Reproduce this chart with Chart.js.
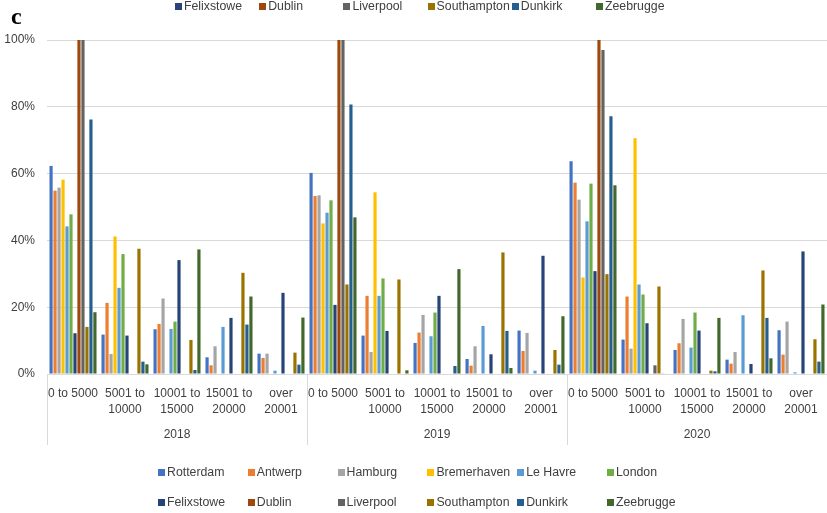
<!DOCTYPE html>
<html>
<head>
<meta charset="utf-8">
<script src="https://cdn.jsdelivr.net/npm/chart.js@4.4.1/dist/chart.umd.min.js"></script>
<style>
  html, body { margin: 0; padding: 0; background: #fff; }
  #wrap { position: relative; width: 827px; height: 513px; overflow: hidden; font-family: "Liberation Sans", Arial, sans-serif; color: #404040; }
  #chart { position: absolute; left: 0; top: 0; }
  .panel-tag { position: absolute; left: 11px; top: 3px; font: bold 24px "Liberation Serif", serif; color: #000; }
  .lg-item { position: absolute; font-size: 12.3px; line-height: 14px; white-space: nowrap; }
  .lg-item i { display: inline-block; width: 7px; height: 7px; margin-right: 2px; vertical-align: 0px; }
</style>
</head>
<body>
<div id="wrap">
  <canvas id="chart" width="827" height="513"></canvas>
  <div class="panel-tag">c</div>
  <div id="legend"></div>
</div>
<script>
// groups on the x axis
const years = ['2018', '2019', '2020'];
const sizeBins = [['0 to 5000'], ['5001 to', '10000'], ['10001 to', '15000'], ['15001 to', '20000'], ['over', '20001']];

// share of calls (%) per size bin, 2018 | 2019 | 2020
const ports = ['Rotterdam', 'Antwerp', 'Hamburg', 'Bremerhaven', 'Le Havre', 'London',
               'Felixstowe', 'Dublin', 'Liverpool', 'Southampton', 'Dunkirk', 'Zeebrugge'];

const rotterdam   = [62.3, 11.8, 13.4, 5.0, 6.1,   60.2, 11.5, 9.3, 4.5, 13.0,   63.7, 10.3, 7.2, 4.3, 13.1];
const antwerp     = [54.9, 21.3, 15.0, 2.6, 4.8,   53.3, 23.4, 12.4, 2.5, 6.9,   57.3, 23.2, 9.2, 3.1, 5.8];
const hamburg     = [55.8, 6.0, 22.6, 8.3, 6.1,    53.5, 6.6, 17.7, 8.3, 12.3,   52.2, 7.6, 16.5, 6.6, 15.7];
const bremerhaven = [58.2, 41.2, 0, 0, 0,          45.1, 54.4, 0, 0, 0,          28.9, 70.6, 0, 0, 0];
const leHavre     = [44.2, 25.8, 13.5, 14.1, 1.0,  48.3, 23.4, 11.3, 14.4, 1.0,  45.7, 26.8, 7.9, 17.6, 0.5];
const london      = [47.8, 35.9, 15.7, 0, 0,       52.0, 28.6, 18.4, 0, 0,       57.0, 23.8, 18.4, 0, 0];
const felixstowe  = [12.2, 11.5, 34.1, 16.8, 24.3, 20.7, 12.9, 23.4, 5.9, 35.4,  30.8, 15.2, 13.0, 3.0, 36.7];
const dublin      = [100, 0, 0, 0, 0,              100, 0, 0, 0, 0,              100, 0, 0, 0, 0];
const liverpool   = [100, 0, 0, 0, 0,              100, 0, 0, 0, 0,              97.0, 2.6, 0, 0, 0];
const southampton = [14.1, 37.5, 10.2, 30.3, 6.4,  26.8, 28.3, 0, 36.4, 7.2,     29.9, 26.2, 1.0, 31.0, 10.4];
const dunkirk     = [76.2, 3.7, 1.2, 14.8, 2.8,    80.7, 0, 2.4, 12.9, 2.8,      77.2, 0.2, 0.8, 16.8, 3.7];
const zeebrugge   = [18.5, 2.9, 37.3, 23.2, 16.9,  46.9, 1.1, 31.4, 1.8, 17.3,   56.5, 0, 16.8, 4.7, 20.8];

const seriesValues = [rotterdam, antwerp, hamburg, bremerhaven, leHavre, london,
                      felixstowe, dublin, liverpool, southampton, dunkirk, zeebrugge];
const yTicks = [0, 20, 40, 60, 80, 100];

const colors = ['#4472C4', '#ED7D31', '#A5A5A5', '#FFC000', '#5B9BD5', '#70AD47',
                '#264478', '#9E480E', '#636363', '#997300', '#255E91', '#43682B'];

const labels = [];
years.forEach(() => sizeBins.forEach(b => labels.push(b)));

// year row + separators under the size-bin labels
const yearAxisPlugin = {
    id: 'yearAxis',
    afterDraw: function(chart) {
        const ctx = chart.ctx;
        const x = chart.scales.x;
        const area = chart.chartArea;
        const n = sizeBins.length;
        ctx.save();
        ctx.strokeStyle = '#d9d9d9';
        ctx.lineWidth = 1;
        ctx.fillStyle = '#404040';
        ctx.font = '12px "Liberation Sans", Arial, sans-serif';
        ctx.textAlign = 'center';
        ctx.textBaseline = 'middle';
        years.forEach((yr, i) => {
            const first = i * n;
            const left = i === 0 ? area.left : (x.getPixelForValue(first - 1) + x.getPixelForValue(first)) / 2;
            const px = Math.round(left) + 0.5;
            ctx.beginPath();
            ctx.moveTo(px, area.bottom);
            ctx.lineTo(px, area.bottom + 71);
            ctx.stroke();
            ctx.fillText(yr, x.getPixelForValue(first + 2), area.bottom + 61);
        });
        ctx.restore();
    }
};

const chart = new Chart(document.getElementById('chart'), {
    type: 'bar',
    data: {
        labels: labels,
        datasets: ports.map((p, i) => ({
            label: p,
            data: seriesValues[i],
            backgroundColor: colors[i],
            borderWidth: 0,
            categoryPercentage: 0.92,
            barPercentage: 0.8
        }))
    },
    options: {
        responsive: false,
        animation: false,
        devicePixelRatio: 1,
        layout: { padding: { top: 40, left: 0, right: 0, bottom: 0 } },
        plugins: {
            legend: { display: false },
            tooltip: { enabled: false }
        },
        scales: {
            x: {
                grid: { display: false },
                border: { display: true, color: '#d9d9d9' },
                ticks: {
                    maxRotation: 0,
                    autoSkip: false,
                    padding: 4,
                    color: '#404040',
                    font: { family: '"Liberation Sans", Arial, sans-serif', size: 12, lineHeight: 1.33 }
                },
                afterFit: function(s) { s.height = 139; }
            },
            y: {
                min: 0,
                max: 100,
                afterBuildTicks: function(s) { s.ticks = yTicks.map(v => ({ value: v })); },
                ticks: {
                    padding: 12,
                    color: '#404040',
                    font: { family: '"Liberation Sans", Arial, sans-serif', size: 12 },
                    callback: v => v + '%'
                },
                grid: { color: '#d9d9d9', drawTicks: false },
                border: { display: false },
                afterFit: function(s) { s.width = 47; }
            }
        }
    },
    plugins: [yearAxisPlugin]
});

// legends: clipped second row at the top, full two rows at the bottom
const legendEl = document.getElementById('legend');
function addItem(i, left, top) {
    const d = document.createElement('div');
    d.className = 'lg-item';
    d.style.left = left + 'px';
    d.style.top = top + 'px';
    d.innerHTML = '<i style="background:' + colors[i] + '"></i>' + ports[i];
    legendEl.appendChild(d);
}
for (let i = 6; i < 12; i++) addItem(i, 175 + (i - 6) * 84.2, -1);
for (let i = 0; i < 12; i++) addItem(i, 158 + (i % 6) * 89.8, i < 6 ? 465 : 495);
</script>
</body>
</html>
